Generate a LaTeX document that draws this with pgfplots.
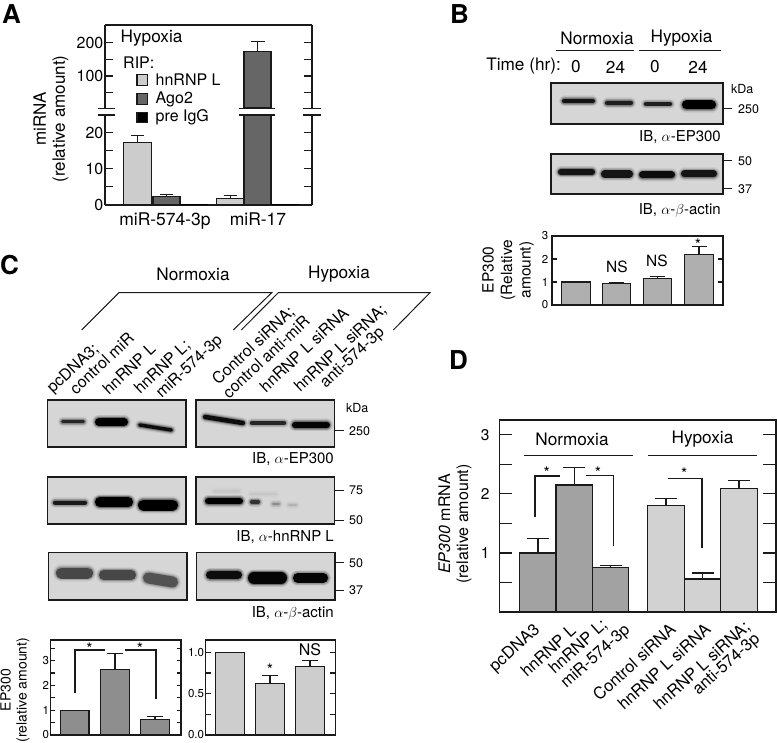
\documentclass[border=0pt]{standalone}
\usepackage{fontspec}
\setmainfont{TeX Gyre Heros}
\usepackage{pgfplots}
\pgfplotsset{compat=1.18}
\definecolor{ink}{HTML}{1A1A1A}
\definecolor{blotbg}{HTML}{D6D6D6}
\definecolor{barA}{HTML}{CCCCCC}
\definecolor{barB}{HTML}{666666}
\definecolor{barC}{HTML}{AFAFAF}
\definecolor{barD}{HTML}{8E8E8E}
\definecolor{barE}{HTML}{CDCDCD}
\definecolor{barF}{HTML}{A2A2A2}
\definecolor{barG}{HTML}{D2D2D2}
\newcommand\fs[1]{\fontsize{#1}{#1}\selectfont}
\newcommand\band[6]{% x1 y1 x2 y2 h darkness
  \foreach \ww/\oo in {6.5/.05,5/.07,3.8/.1,2.6/.14,1.4/.25}{
    \draw[line cap=round,line width=#5+\ww,black!#6,opacity=\oo] ({#1+#5/2},#2) -- ({#3-#5/2},#4);
  }
  \draw[line cap=round,line width=#5,black!#6] ({#1+#5/2},#2) -- ({#3-#5/2},#4);
}
\newcommand\blot[4]{\draw[fill=blotbg,draw=ink,line width=1.2pt] (#1,#2) rectangle (#3,#4);}
\pgfplotsset{
  panel/.style={scale only axis,anchor=north west,axis line style={ink,line width=1.3pt},
    tick align=inside,tick style={ink,line width=1.2pt},
    /pgf/number format/assume math mode=true,
    xtick=\empty,ytick pos=both,yticklabel pos=left,
    clip=true,
    yticklabel style={inner sep=1.5pt}},
  pbar/.style={ybar,bar shift=0pt,draw=ink,line width=1.2pt,fill=#1,mark=none,
    error bars/y dir=plus,error bars/y explicit,
    error bars/error bar style={ink,line width=1.1pt}},
  ecap/.style={error bars/error mark=|,error bars/error mark options={mark size=#1,line width=1.1pt,ink}},
}
\begin{document}
\begin{tikzpicture}
\path[use as bounding box] (0pt,0pt) rectangle (777pt,-743pt);

\begin{scope}[x=1pt,y=-1pt]
% panel letters
\foreach \t/\x/\y in {A/2/14,B/450/14,C/0/265,D/449/360}
  \node[anchor=west,inner sep=0pt,font=\fs{26}\bfseries] at (\x,\y) {\t};

% --- panel B blots
\blot{551}{83}{723}{124}
\band{562}{101}{595}{101}{4.5}{92}
\band{605}{103}{633}{103}{4.5}{88}
\band{644}{104}{672}{104}{3.5}{88}
\band{682}{105}{716}{105}{9}{100}
\blot{551}{154}{723}{194}
\band{558}{172}{595}{172}{6}{92}
\band{601}{174}{633}{174}{7.5}{92}
\band{639}{175}{675}{175}{7}{95}
\band{681}{174}{717}{174}{7}{92}
\foreach \y in {108,160.5,188} \draw[ink,line width=.9pt] (723,\y) -- ++(9,0);
\node[anchor=west,inner sep=0pt,font=\fs{12.5}] at (731,89) {kDa};
\foreach \l/\y in {250/109,50/161,37/189}
  \node[anchor=west,inner sep=0pt,font=\fs{12.5}] at (738,\y) {\l};
\node[anchor=east,inner sep=0pt,font=\fs{15}] at (721,137) {IB, $\alpha$-EP300};
\node[anchor=east,inner sep=0pt,font=\fs{15}] at (721,210) {IB, $\alpha$-$\beta$-actin};
\node[inner sep=0pt,font=\fs{17.2}] at (597,38) {Normoxia};
\node[inner sep=0pt,font=\fs{17.2}] at (681.5,38) {Hypoxia};
\draw[ink,line width=1pt] (556,51) -- (634,51) (639,51) -- (721,51);
\node[anchor=east,inner sep=0pt,font=\fs{17.2}] at (561,66) {Time (hr):};
\foreach \l/\x in {0/576,24/615.5,0/655,24/698}
  \node[inner sep=0pt,font=\fs{17.2}] at (\x,67) {\l};
\node[inner sep=0pt,font=\fs{15.5},rotate=90,align=center] at (508,270) {EP300\\[3pt](Relative\\[3pt]amount)};
\node[inner sep=0pt,font=\fs{15.5}] at (617,267) {NS};
\node[inner sep=0pt,font=\fs{15.5}] at (657,261) {NS};
\node[inner sep=0pt,font=\fs{16}] at (698,245) {*};

% --- panel C header
\node[inner sep=0pt,font=\fs{17.2}] at (193,274) {Normoxia};
\node[inner sep=0pt,font=\fs{17.2}] at (339,274) {Hypoxia};
\draw[ink,line width=1pt] (81.7,330) -- (119,292.7) -- (271.7,292.7) -- (233.3,330);
\draw[ink,line width=1pt] (241.3,330) -- (278.3,292.7) -- (430,292.7) -- (393.3,330);
\foreach \t/\x/\y in {pcDNA3;/50/391,control miR/72/391,hnRNP L/105/391,hnRNP L;/137/391,miR-574-3p/159/396,
  Control siRNA;/215/382,control anti-miR/225/395,hnRNP L siRNA/262/389,hnRNP L siRNA;/297/389,anti-574-3p/323/386}
  \node[anchor=west,inner sep=0pt,rotate=43,font=\fs{16}] at (\x,\y) {\t};

% --- panel C blots
\blot{47.7}{400}{186}{447}
\band{61}{421.7}{85}{421.7}{3.5}{85}
\band{95}{422}{128}{422}{8}{100}
\band{138}{425}{173}{430}{3.5}{95}
\blot{196}{400}{334.7}{447}
\band{203}{417}{245}{423}{4.5}{95}
\band{250}{423}{286}{423}{3.5}{85}
\band{292}{425}{330}{425}{6.5}{98}
\node[anchor=west,inner sep=0pt,font=\fs{12.5}] at (346,408) {kDa};
\node[anchor=west,inner sep=0pt,font=\fs{12.5}] at (349,431) {250};
\draw[ink,line width=.9pt] (334.7,430.7) -- ++(9,0);
\node[anchor=east,inner sep=0pt,font=\fs{15}] at (334,459) {IB, $\alpha$-EP300};

\blot{47.7}{477}{186}{524}
\band{53}{502.7}{87}{502.7}{4}{90}
\band{95}{502}{133}{502}{10}{100}
\band{138}{505}{178}{505}{11}{100}
\blot{196}{477}{334.7}{524}
\band{205}{501}{243}{501}{6.5}{100}
\band{250}{502}{260}{502}{4}{80}
\band{272}{504}{280}{504}{2.5}{45}
\band{288}{505}{297}{505}{2}{30}
\band{213}{491}{240}{491}{3}{22}
\band{250}{494}{277}{494}{2.5}{22}
\foreach \y in {490,520} \draw[ink,line width=.9pt] (334.7,\y) -- ++(9,0);
\foreach \l/\y in {75/490,50/520}
  \node[anchor=west,inner sep=0pt,font=\fs{12.5}] at (349,\y) {\l};
\node[anchor=east,inner sep=0pt,font=\fs{15}] at (334,537.5) {IB, $\alpha$-hnRNP L};

\blot{48.3}{552.7}{187}{600}
\band{56}{573}{93}{573}{11}{72}
\band{99}{575}{136}{575}{10}{72}
\band{143}{578}{178}{582}{11}{68}
\blot{196.7}{552.7}{335}{600}
\band{206}{575}{242}{575}{8.5}{95}
\band{248}{578}{287}{578}{12}{98}
\band{293}{578}{328}{578}{9.5}{98}
\foreach \y in {562.7,590} \draw[ink,line width=.9pt] (335,\y) -- ++(9,0);
\foreach \l/\y in {50/563,37/590}
  \node[anchor=west,inner sep=0pt,font=\fs{12.5}] at (349,\y) {\l};
\node[anchor=east,inner sep=0pt,font=\fs{15}] at (334,613) {IB, $\alpha$-$\beta$-actin};
\node[inner sep=0pt,font=\fs{14},rotate=90,align=center] at (15,690) {EP300\\[2pt](relative amount)};

% --- panel A text
\node[anchor=west,inner sep=0pt,font=\fs{17.2}] at (120.5,38) {Hypoxia};
\node[anchor=west,inner sep=0pt,font=\fs{16}] at (123,62.5) {RIP:};
\node[inner sep=0pt,font=\fs{17},rotate=90,align=center] at (51,119) {miRNA\\[2pt](relative amount)};
\end{scope}

% ===== panel A
\begin{axis}[panel,at={(105pt,-115pt)},width=207pt,height=90pt,
  xmin=105,xmax=312,ymin=0,ymax=24.86,
  axis x line*=bottom,axis y line*=box,
  xtick={165,258},xticklabels={miR-574-3p,miR-17},x tick style={draw=none},
  xticklabel style={font=\fs{17.5},yshift=-4pt},
  ytick={0,5,10,15,20},yticklabels={0,,10,,20},major tick length=8pt,
  yticklabel style={font=\fs{16}}]
\addplot+[pbar=barA,bar width=27.5,ecap=6.5pt]
  coordinates {(137.5,17.2) +- (0,2.0) (230.5,1.9) +- (0,0.7)};
\addplot+[pbar=barB,bar width=27,ecap=6.5pt]
  coordinates {(166.5,2.3) +- (0,0.6) (257.5,173) +- (0,0)};
\addplot+[ybar,bar shift=0pt,bar width=27,draw=black,fill=black,line width=.8pt,mark=none]
  coordinates {(193.5,0.1) (284.5,0.1)};
\end{axis}
\begin{axis}[panel,at={(105pt,-25pt)},width=207pt,height=83pt,
  xmin=105,xmax=312,ymin=4,ymax=253,
  axis x line*=top,axis y line*=box,
  ytick={50,100,150,200},yticklabels={,100,,200},major tick length=8pt,
  yticklabel style={font=\fs{16}}]
\addplot+[pbar=barB,bar width=27,ecap=7pt]
  coordinates {(257.5,173) +- (0,30)};
\end{axis}

% ===== panel B
\begin{axis}[panel,at={(552pt,-236pt)},width=171pt,height=69pt,
  xmin=552,xmax=723,ymin=0,ymax=3,
  ytick={0,1,2,3},major tick length=5pt,
  yticklabel style={font=\fs{11.5},xshift=-2pt}]
\addplot+[pbar=barC,bar width=28.5,ecap=7.5pt]
  coordinates {(576,1) +- (0,0) (616.5,0.95) +- (0,0.03) (657.5,1.15) +- (0,0.07) (699,2.2) +- (0,0.35)};
\end{axis}

% ===== panel C left
\begin{axis}[panel,at={(50.7pt,-640pt)},width=130.3pt,height=95pt,
  xmin=50.7,xmax=181,ymin=0,ymax=3.83,
  ytick={0,0.5,1,1.5,2,2.5,3,3.5},yticklabels={0,,1,,2,,3,},major tick length=4pt,
  yticklabel style={font=\fs{11.5}}]
\addplot+[pbar=barD,bar width=28.6,ecap=8pt]
  coordinates {(74.7,1) +- (0,0) (115,2.65) +- (0,0.65) (155,0.62) +- (0,0.13)};
\end{axis}

% ===== panel C right
\begin{axis}[panel,at={(205.7pt,-640pt)},width=129.6pt,height=95pt,
  xmin=205.7,xmax=335.3,ymin=0,ymax=1.149,
  ytick={0,0.25,0.5,0.75,1},yticklabels={0.0,,0.5,,1.0},major tick length=5pt,
  yticklabel style={font=\fs{11.5}}]
\addplot+[pbar=barE,bar width=28.6,ecap=8pt]
  coordinates {(230,1) +- (0,0) (270,0.62) +- (0,0.10) (310,0.83) +- (0,0.07)};
\end{axis}

% ===== panel D
\begin{axis}[panel,at={(499.3pt,-420pt)},width=276.7pt,height=192pt,
  xmin=499.3,xmax=776,ymin=0,ymax=3.25,
  ytick={0.5,1,1.5,2,2.5,3},yticklabels={,1,,2,,3},major tick length=13pt,
  yticklabel style={font=\fs{15.5},xshift=-8pt}]
\addplot+[pbar=barF,bar width=36.3,ecap=11pt]
  coordinates {(538,1.0) +- (0,0.24) (574.2,2.15) +- (0,0.30) (610.6,0.75) +- (0,0.04)};
\addplot+[pbar=barG,bar width=36.3,ecap=11pt]
  coordinates {(666,1.8) +- (0,0.12) (702.5,0.56) +- (0,0.10) (739,2.09) +- (0,0.14)};
\end{axis}

\begin{scope}[x=1pt,y=-1pt]
% panel A legend & breaks
\foreach \c/\y/\t in {barA/80/hnRNP L,barB/99/Ago2,black/117.5/pre IgG}{
  \draw[ink,fill=\c,line width=1.1pt] (137,\y-5.2) rectangle (147.5,\y+5.2);
  \node[anchor=west,inner sep=0pt,font=\fs{16}] at (155.5,\y) {\t};
}
\foreach \xa/\xb in {97.5/114.5,239/275,303/321}{
  \fill[white] (\xa,108.5) rectangle (\xb,115);
  \draw[ink,line width=1.1pt] (\xa,108.5) -- (\xb,108.5) (\xa,115) -- (\xb,115);
}
% panel C brackets
\draw[ink,line width=1.1pt] (75,693) -- (75,650) -- (105,650) (125,650) -- (156,650) -- (156,699);
\node[inner sep=0pt,font=\fs{16}] at (89.5,648.5) {*};
\node[inner sep=0pt,font=\fs{16}] at (140,648.5) {*};
\node[inner sep=0pt,font=\fs{16}] at (310,650) {NS};
\node[inner sep=0pt,font=\fs{16}] at (270,669.5) {*};
% panel D
\node[inner sep=0pt,font=\fs{17.2}] at (572,439) {Normoxia};
\node[inner sep=0pt,font=\fs{17.2}] at (702.5,439.5) {Hypoxia};
\draw[ink,line width=1pt] (524,455) -- (632.7,455) (648,455) -- (757.3,455);
\draw[ink,line width=1.1pt] (535,516.7) -- (535,476) -- (560,476) (586,475.7) -- (613.3,475.7) -- (613.3,546);
\draw[ink,line width=1.1pt] (668,478.7) -- (702,478.7) -- (702,547.7);
\node[inner sep=0pt,font=\fs{16}] at (546.7,472.5) {*};
\node[inner sep=0pt,font=\fs{16}] at (598,472.5) {*};
\node[inner sep=0pt,font=\fs{16}] at (684.3,473.5) {*};
\node[inner sep=0pt,font=\fs{16},rotate=90,align=center] at (455,524) {\textit{EP300} mRNA\\[2pt](relative amount)};
\foreach \t/\x/\y in {pcDNA3/538/628,hnRNP L/573/628,hnRNP L;/605/623,miR-574-3p/628/628,
  Control siRNA/673/627,hnRNP L siRNA/708/627,hnRNP L siRNA;/748/625,anti-574-3p/758/637}
  \node[anchor=east,inner sep=0pt,rotate=42,font=\fs{16.5}] at (\x,\y) {\t};
\end{scope}
\end{tikzpicture}
\end{document}
